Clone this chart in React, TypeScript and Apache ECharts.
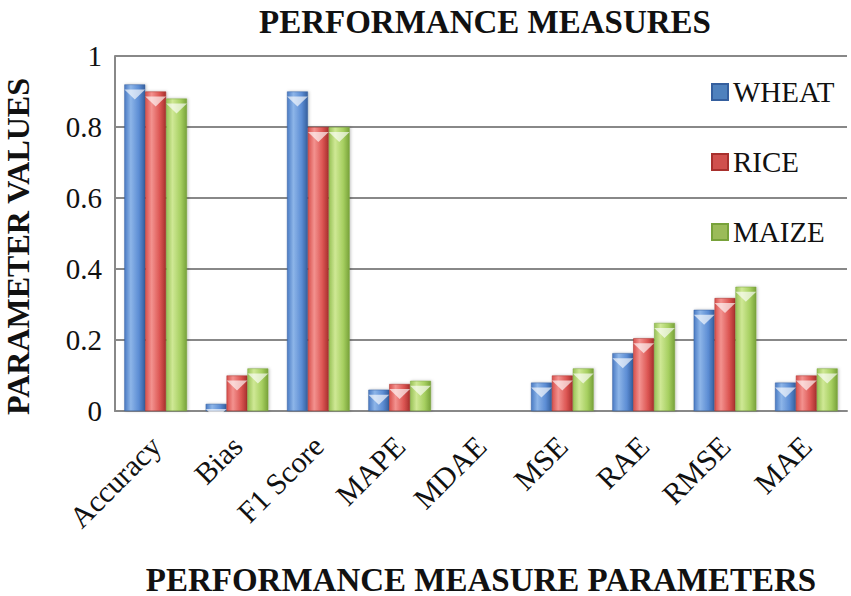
import React, { useEffect, useRef } from "react";
import * as echarts from "echarts";

const categories = ["Accuracy", "Bias", "F1 Score", "MAPE", "MDAE", "MSE", "RAE", "RMSE", "MAE"];
const seriesNames = ["WHEAT", "RICE", "MAIZE"];
const wheat = [0.92, 0.02, 0.9, 0.06, 0, 0.08, 0.163, 0.285, 0.08];
const rice = [0.9, 0.1, 0.8, 0.076, 0, 0.1, 0.205, 0.318, 0.1];
const maize = [0.88, 0.12, 0.8, 0.085, 0, 0.12, 0.248, 0.35, 0.12];
const yTicks = [0, 0.2, 0.4, 0.6, 0.8, 1];

const FONT = "Liberation Serif";

const palettes = [
  ["#4A7BC4", "#8DB5E8", "#5C8DD4", "#355F9E"],
  ["#D8504D", "#F3928F", "#DC5653", "#A8302D"],
  ["#98C256", "#CFE895", "#A6CF60", "#78A23A"],
];
const legendColors = ["#4F81BD", "#D0504D", "#9BBB59"];

function grad(p: string[]) {
  return new echarts.graphic.LinearGradient(0, 0, 1, 0, [
    { offset: 0, color: p[0] },
    { offset: 0.3, color: p[1] },
    { offset: 0.7, color: p[2] },
    { offset: 1, color: p[3] },
  ]);
}

export default function App() {
  const ref = useRef<HTMLDivElement>(null);
  useEffect(() => {
    if (!ref.current) return;
    const chart = echarts.init(ref.current, undefined, { renderer: "svg" });
    const values = [wheat, rice, maize];
    const barSeries: any[] = values.map((vals, i) => ({
      type: "bar",
      name: seriesNames[i],
      data: vals,
      barGap: "0%",
      barCategoryGap: "23%",
      itemStyle: {
        color: grad(palettes[i]),
        borderColor: palettes[i][3],
        borderWidth: 0.5,
        shadowColor: "rgba(0,0,0,0.25)",
        shadowBlur: 3,
        shadowOffsetX: 1,
      },
    }));
    const tipSeries: any[] = values.map((vals, i) => ({
      type: "pictorialBar",
      name: "tip" + i,
      data: vals.map((v) => (v > 0 ? v : "-")),
      barGap: "0%",
      barCategoryGap: "23%",
      symbol: "path://M0,0 L10,0 L5,6 Z",
      symbolSize: ["100%", 10],
      symbolPosition: "end",
      symbolOffset: [0, "50%"],
      z: 3,
      silent: true,
      itemStyle: { color: "rgba(255,255,255,0.65)" },
    }));
    chart.setOption({
      animation: false,
      title: {
        text: "PERFORMANCE MEASURES",
        left: 254,
        top: 0,
        textStyle: { fontFamily: FONT, fontWeight: "bold", fontSize: 33, lineHeight: 34, color: "#111" },
      },
      legend: {
        data: seriesNames.map((n, i) => ({ name: n, itemStyle: { color: legendColors[i] } })),
        orient: "vertical",
        left: 706,
        top: 72,
        itemWidth: 16,
        itemHeight: 16,
        itemGap: 40,
        icon: "rect",
        textStyle: { fontFamily: FONT, fontSize: 29, lineHeight: 30, color: "#111" },
      },
      grid: { left: 115, right: 4, top: 56, bottom: 185, containLabel: false, outerBoundsMode: "none" },
      xAxis: {
        type: "category",
        data: categories,
        axisLine: { lineStyle: { color: "#888", width: 2 } },
        axisTick: { show: false },
        axisLabel: {
          rotate: 45,
          margin: 30,
          fontFamily: FONT,
          fontSize: 30,
          color: "#111",
        },
        name: "PERFORMANCE MEASURE PARAMETERS",
        nameLocation: "middle",
        nameGap: 152,
        nameTextStyle: { fontFamily: FONT, fontWeight: "bold", fontSize: 33, color: "#111" },
      },
      yAxis: {
        type: "value",
        min: yTicks[0],
        max: yTicks[yTicks.length - 1],
        interval: 0.2,
        axisLine: { show: true, lineStyle: { color: "#888", width: 2 } },
        axisTick: { show: true, length: 5, inside: true, lineStyle: { color: "#888", width: 2 } },
        splitLine: { lineStyle: { color: "#888", width: 2 } },
        axisLabel: {
          formatter: (v: number) => (v === 0 || v === 1 ? String(v) : v.toFixed(1)),
          fontFamily: FONT,
          fontSize: 29,
          color: "#111",
          margin: 13,
        },
        name: "PARAMETER VALUES",
        nameLocation: "middle",
        nameGap: 81,
        nameTextStyle: { fontFamily: FONT, fontWeight: "bold", fontSize: 32, color: "#111", padding: [0, 26, 0, 0] },
      },
      series: [...barSeries, ...tipSeries],
    });
    return () => chart.dispose();
  }, []);
  return <div ref={ref} style={{ width: 851, height: 596, position: "absolute", left: 0, top: 0, background: "#fff" }} />;
}
